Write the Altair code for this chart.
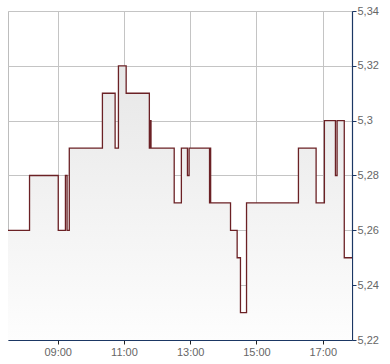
import altair as alt
import pandas as pd

times = ["07:30", "08:09", "09:01", "09:14", "09:17", "09:21", "10:21", "10:44", "10:50",
         "11:04", "11:46", "11:47", "11:49", "12:31", "12:44", "12:55", "12:58", "13:35",
         "13:36", "13:37", "14:13", "14:25", "14:31", "14:42", "16:16", "16:48", "17:03",
         "17:23", "17:26", "17:39", "17:53"]
prices = [5.26, 5.28, 5.26, 5.28, 5.26, 5.29, 5.31, 5.29, 5.32, 5.31, 5.29, 5.30, 5.29,
          5.27, 5.29, 5.28, 5.29, 5.27, 5.29, 5.27, 5.26, 5.25, 5.23, 5.27, 5.29, 5.27,
          5.30, 5.28, 5.30, 5.25, 5.25]
x_ticks = ["09:00", "11:00", "13:00", "15:00", "17:00"]
y_ticks = [5.22, 5.24, 5.26, 5.28, 5.30, 5.32, 5.34]


def to_min(s):
    h, m = s.split(":")
    return int(h) * 60 + int(m)


df = pd.DataFrame({"t": [to_min(s) for s in times], "price": prices})
df["base"] = y_ticks[0]

navy = "#1b3764"
xdom = [to_min(times[0]), to_min(times[-1])]

x_enc = alt.X("t:Q", scale=alt.Scale(domain=xdom, nice=False, zero=False),
              axis=alt.Axis(values=[to_min(s) for s in x_ticks],
                            labelExpr="(datum.value < 600 ? '0' : '') + floor(datum.value / 60) + ':00'",
                            title=None, grid=True, gridColor="#c4c4c4", gridWidth=1,
                            domainColor=navy, domainWidth=1.2, tickColor="#222",
                            tickSize=4, labelPadding=2, labelFontSize=11,
                            labelColor="#666", labelFont="Liberation Sans"))
y_scale = alt.Scale(domain=[y_ticks[0], y_ticks[-1]], nice=False, zero=False)
y_enc = alt.Y("price:Q", scale=y_scale,
              axis=alt.Axis(orient="right", values=y_ticks,
                            labelExpr="replace(format(datum.value, '~g'), '.', ',')",
                            title=None, grid=True, gridColor="#c4c4c4", gridWidth=1,
                            domainColor=navy, domainWidth=1.2, tickColor=navy,
                            tickSize=4, labelPadding=1, labelFontSize=11,
                            labelColor="#666", labelFont="Liberation Sans"))

area = alt.Chart(df).mark_area(
    interpolate="step-after", clip=True,
    color=alt.Gradient(gradient="linear",
                       stops=[alt.GradientStop(color="#e7e7e7", offset=0),
                              alt.GradientStop(color="#fdfdfd", offset=1)],
                       x1=0, x2=0, y1=0, y2=1)
).encode(x=x_enc, y=y_enc, y2="base:Q")

line = alt.Chart(df).mark_line(
    interpolate="step-after", clip=True, color="#6b2125", strokeWidth=1.3
).encode(x="t:Q", y="price:Q")

chart = alt.layer(area, line).properties(
    width=344, height=329,
    padding={"left": 8, "top": 11, "right": 38, "bottom": 24},
    autosize=alt.AutoSizeParams(type="none"),
    background="white"
).configure_view(stroke="#bdbdbd", strokeWidth=1)

chart.save("out.html", embed_options={"renderer": "svg", "actions": False})
